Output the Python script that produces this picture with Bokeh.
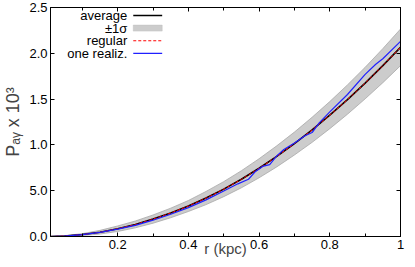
from bokeh.plotting import figure
from bokeh.models import Range1d, LinearAxis, FixedTicker
from bokeh.embed import file_html
from bokeh.resources import INLINE
from bokeh.core.properties import value

# ---- data ----
r = [0.01, 0.05, 0.10, 0.15, 0.20, 0.25, 0.30, 0.35, 0.40, 0.45, 0.50,
     0.55, 0.60, 0.65, 0.70, 0.75, 0.80, 0.85, 0.90, 0.95, 1.00]
average = [0.000, 0.005, 0.021, 0.047, 0.085, 0.132, 0.190, 0.257, 0.333, 0.420, 0.517,
           0.625, 0.745, 0.875, 1.015, 1.165, 1.325, 1.495, 1.675, 1.865, 2.065]
sigma = [0.000, 0.004, 0.010, 0.020, 0.030, 0.037, 0.045, 0.052, 0.060, 0.072, 0.082,
         0.093, 0.104, 0.115, 0.125, 0.137, 0.148, 0.160, 0.172, 0.186, 0.200]
regular = [0.000, 0.005, 0.021, 0.046, 0.084, 0.131, 0.189, 0.256, 0.332, 0.419, 0.516,
           0.624, 0.744, 0.874, 1.014, 1.164, 1.324, 1.494, 1.674, 1.864, 2.064]
real_r = [0.01, 0.05, 0.10, 0.15, 0.20, 0.25, 0.30, 0.35, 0.40, 0.45, 0.50, 0.54,
          0.57, 0.59, 0.61, 0.63, 0.65, 0.67, 0.70, 0.73, 0.75, 0.77, 0.80, 0.85,
          0.90, 0.93, 0.95, 1.00]
real_v = [0.000, 0.004, 0.020, 0.045, 0.080, 0.122, 0.178, 0.243, 0.315, 0.400, 0.497, 0.575,
          0.625, 0.710, 0.765, 0.785, 0.880, 0.950, 1.020, 1.100, 1.135, 1.240, 1.360, 1.550,
          1.770, 1.880, 1.940, 2.130]

x_ticks = [0.2, 0.4, 0.6, 0.8, 1.0]
x_tick_labels = ["0.2", "0.4", "0.6", "0.8", "1"]
x_minor_ticks = [0.1, 0.3, 0.5, 0.7, 0.9]
y_ticks = [0.0, 0.5, 1.0, 1.5, 2.0, 2.5]
y_tick_labels = ["0.0", "5.0", "1.0", "1.5", "2.0", "2.5"]
legend_labels = ["average", "\u00b11\u03c3", "regular", "one realiz."]
x_title = "r (kpc)"
y_title = "P\u2090\u1d67 x 10\u00b3"

# ---- layout ----
X0, X1 = 0.01, 1.0
Y0, Y1 = 0.0, 2.5
W, H = 408, 259
BL, BR, BT, BB = 49, 8, 7, 22
FW, FH = W - BL - BR, H - BT - BB
FONT = "Liberation Sans"

p = figure(width=W, height=H,
           x_range=Range1d(X0, X1), y_range=Range1d(Y0, Y1),
           output_backend="svg", toolbar_location=None,
           min_border_left=BL, min_border_right=BR, min_border_top=BT, min_border_bottom=BB,
           background_fill_color="white", border_fill_color="white")
p.grid.visible = False
p.outline_line_color = "black"
p.outline_line_width = 1


def style(ax, labels=True):
    ax.axis_line_color = "black"
    ax.axis_line_width = 1
    ax.major_tick_in = 4
    ax.major_tick_out = 0
    ax.minor_tick_in = 3
    ax.minor_tick_out = 0
    ax.major_tick_line_color = "black"
    ax.minor_tick_line_color = "black"
    ax.major_label_text_font = FONT
    ax.major_label_text_color = "black"
    ax.major_label_text_font_size = "13px"
    ax.major_label_standoff = 3 if labels else 0


xb = p.xaxis[0]
xb.ticker = FixedTicker(ticks=x_ticks, minor_ticks=x_minor_ticks)
xb.major_label_overrides = {t: s for t, s in zip(x_ticks, x_tick_labels)}
style(xb)
xb.axis_label = x_title
xb.axis_label_text_font = FONT
xb.axis_label_text_font_style = "normal"
xb.axis_label_text_font_size = "15px"
xb.axis_label_standoff = -12

yl = p.yaxis[0]
yl.ticker = FixedTicker(ticks=y_ticks, minor_ticks=[])
yl.major_label_overrides = {t: s for t, s in zip(y_ticks, y_tick_labels)}
style(yl)
yl.axis_label = y_title
yl.axis_label_text_font = FONT
yl.axis_label_text_font_style = "normal"
yl.axis_label_text_font_size = "18px"
yl.axis_label_standoff = 3

xt = LinearAxis(ticker=FixedTicker(ticks=x_ticks, minor_ticks=x_minor_ticks))
xt.major_label_overrides = {t: "" for t in x_ticks}
style(xt, labels=False)
p.add_layout(xt, "above")
yr = LinearAxis(ticker=FixedTicker(ticks=y_ticks, minor_ticks=[]))
yr.major_label_overrides = {t: "" for t in y_ticks}
style(yr, labels=False)
p.add_layout(yr, "right")

# ---- data marks ----
lower = [a - s for a, s in zip(average, sigma)]
upper = [a + s for a, s in zip(average, sigma)]
p.varea(x=r, y1=lower, y2=upper, fill_color="#cccccc")
p.line(r, lower, line_color="#a8a8a8", line_width=0.8)
p.line(r, upper, line_color="#a8a8a8", line_width=0.8)
p.line(r, average, line_color="black", line_width=1.6)
p.line(r, regular, line_color="red", line_width=1, line_dash="3 2")
p.line(real_r, real_v, line_color="#2020ff", line_width=1.2)

# ---- legend (text right, sample on the right) ----
px_x = (X1 - X0) / FW
px_y = (Y1 - Y0) / FH
tx = X0 + 77 * px_x
lx0, lx1 = X0 + 83 * px_x, X0 + 112 * px_x
rows = [Y1 - (8 + 12.7 * i) * px_y for i in range(4)]
p.text(x=[tx] * 4, y=rows, text=legend_labels, text_align="right",
       text_baseline="middle", text_font=value(FONT), text_font_size="13px",
       text_color="black")
p.segment(x0=[lx0], y0=[rows[0]], x1=[lx1], y1=[rows[0]], line_color="black", line_width=1.6)
p.quad(left=[lx0], right=[lx1], bottom=[rows[1] - 3 * px_y], top=[rows[1] + 3 * px_y],
       fill_color="#cccccc", line_color="#c0c0c0", line_width=0.5)
p.segment(x0=[lx0], y0=[rows[2]], x1=[lx1], y1=[rows[2]], line_color="red",
          line_width=1, line_dash="3 2")
p.segment(x0=[lx0], y0=[rows[3]], x1=[lx1], y1=[rows[3]], line_color="#2020ff", line_width=1.2)

open("out.html", "w").write(file_html(p, INLINE))
